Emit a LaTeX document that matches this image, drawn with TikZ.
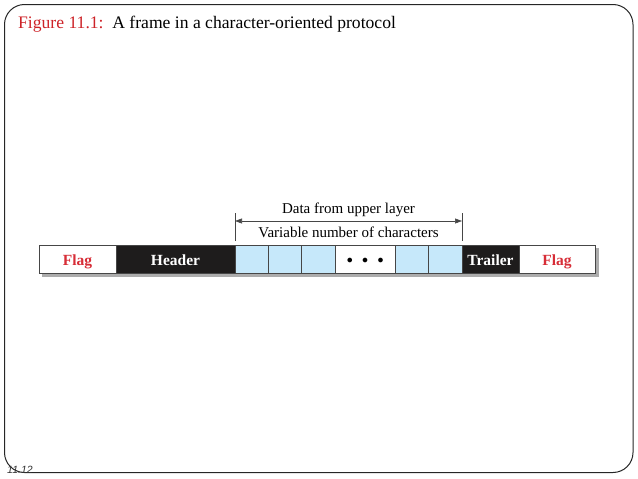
\documentclass[tikz,border=0pt]{standalone}
\usepackage{fontspec}
\setmainfont{Liberation Serif}
\newfontfamily\sansit{Liberation Sans}
\usetikzlibrary{arrows.meta,calc}
\definecolor{figred}{RGB}{205,35,40}
\definecolor{flagred}{RGB}{215,45,55}
\definecolor{cellblue}{RGB}{198,232,250}
\definecolor{hdrblack}{RGB}{30,28,28}
\definecolor{edgegray}{RGB}{70,70,70}
\tikzset{
  cellbox/.style={draw=edgegray, line width=0.8pt, minimum height=28pt, inner sep=0pt, anchor=west, outer sep=0pt, text height=12pt, text depth=0pt},
  flagbox/.style={cellbox, fill=white, font=\fontsize{15.5}{15.5}\selectfont\bfseries, text=flagred},
  darkbox/.style={cellbox, fill=hdrblack, font=\fontsize{15.5}{15.5}\selectfont\bfseries, text=white},
  bluebox/.style={cellbox, fill=cellblue, minimum width=33.4pt},
  lbl/.style={font=\fontsize{15}{15}\selectfont, inner sep=0pt},
  tick/.style={draw=edgegray, line width=0.6pt},
}
\begin{document}
\begin{tikzpicture}[x=1pt,y=-1pt]
\useasboundingbox (0,0) rectangle (638,479);
% slide frame
\draw[line width=1pt, rounded corners=20pt, draw=black!85] (4.5,4.5) rectangle (633,472.5);
% title
\node[anchor=base west, inner sep=0pt, font=\fontsize{17.6}{17.6}\selectfont] (title) at (18,28)
  {\textcolor{figred}{Figure 11.1:}\hspace{0.5em}A frame in a character-oriented protocol};
% page number
\node[anchor=base west, inner sep=0pt, font=\sansit\itshape\fontsize{10.5}{10.5}\selectfont, text=black!80] (pnum) at (7,473) {11.12};
% shadow
\fill[gray!65] (42,248) rectangle (598.5,276.5);
% bar cells
\node[flagbox, minimum width=77pt] (f1) at (39,259) {Flag};
\node[darkbox, minimum width=119pt] (hd) at (f1.east) {Header};
\node[bluebox] (c1) at (hd.east) {};
\node[bluebox] (c2) at (c1.east) {};
\node[bluebox] (c3) at (c2.east) {};
\node[cellbox, fill=white, minimum width=60pt, font=\fontsize{12}{12}\selectfont, text height=9pt] (dots) at (c3.east) {$\bullet\;\;\bullet\;\;\bullet$};
\node[bluebox] (c4) at (dots.east) {};
\node[bluebox] (c5) at (c4.east) {};
\node[darkbox, minimum width=57pt] (tr) at (c5.east) {Trailer};
\node[flagbox, minimum width=76pt] (f2) at (tr.east) {Flag};
% span marker
\coordinate (tl) at ([yshift=32pt]hd.north east);
\coordinate (bl) at ([yshift=4pt]hd.north east);
\coordinate (tr2) at ([yshift=32pt]c5.north east);
\coordinate (br) at ([yshift=4pt]c5.north east);
\draw[tick] (tl) -- (bl);
\draw[tick] (tr2) -- (br);
\coordinate (al) at ([yshift=24pt]hd.north east);
\coordinate (ar) at ([yshift=24pt]c5.north east);
\draw[tick, {Triangle[length=7pt,width=5pt]}-{Triangle[length=7pt,width=5pt]}] (al) -- (ar);
\coordinate (mid) at ($(hd.north east)!0.5!(c5.north east)$);
\node[lbl, anchor=base] (up) at ([yshift=32pt]mid) {Data from upper layer};
\node[lbl, anchor=base] (var) at ([yshift=8pt]mid) {Variable number of characters};
\end{tikzpicture}
\end{document}
